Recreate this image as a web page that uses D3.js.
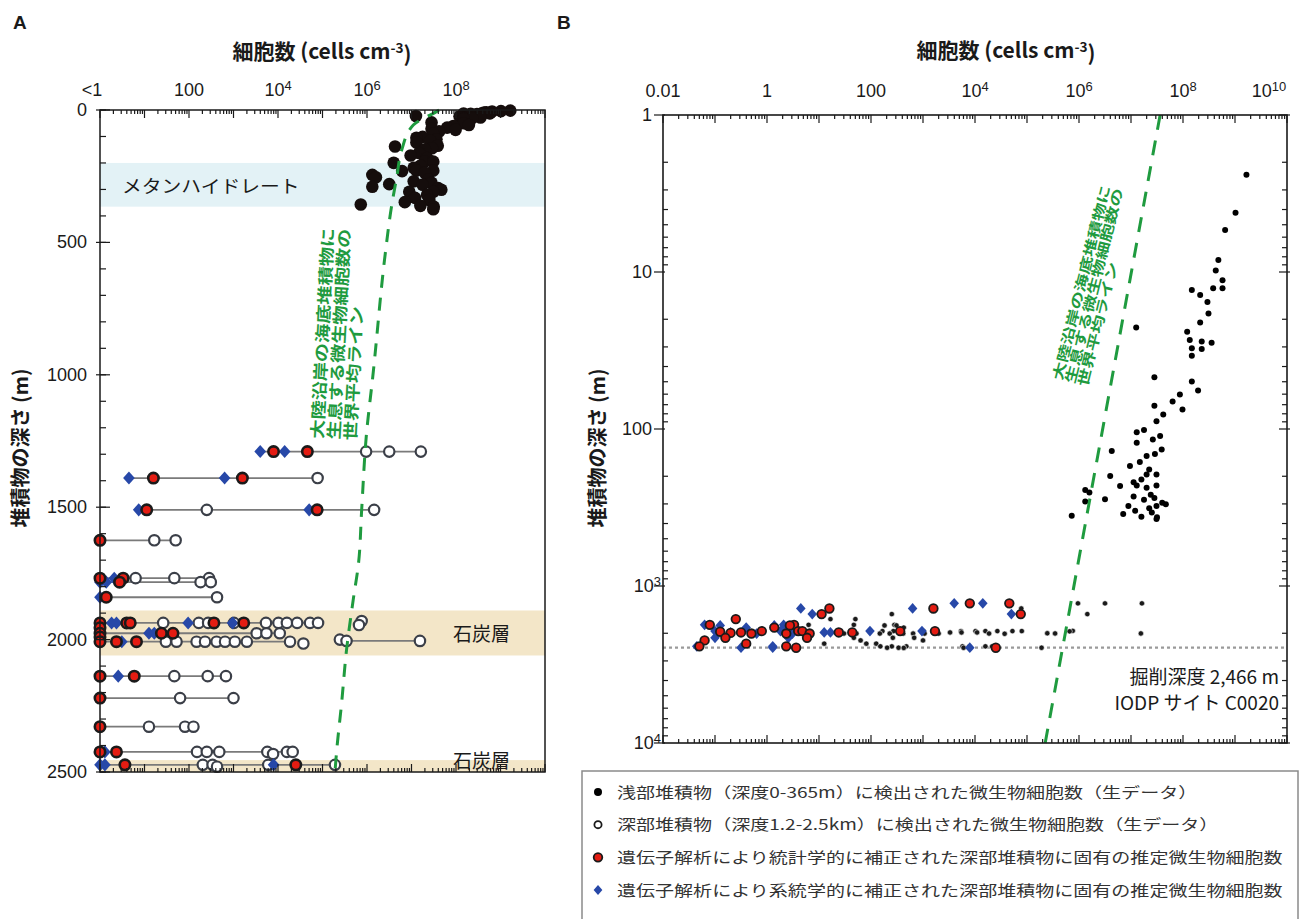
<!DOCTYPE html>
<html>
<head>
<meta charset="utf-8">
<script src="https://cdn.jsdelivr.net/npm/d3@7/dist/d3.min.js"></script>
<style>
  body { margin: 0; background: #fff; }
  svg { display: block; }
</style>
</head>
<body>
<svg id="chart"></svg>
<script>
// ------------------------------------------------------------
// Microbial cell counts vs sediment depth (IODP site C0020).
// Cell values are log10(cells cm-3); depths are metres.
// Panel A: linear depth, panel B: log depth.
// ------------------------------------------------------------

// shallow sediments (0-365 m), raw counts  [depth, log10 cells]
const shallowCells = [
  [2.4, 9.22], [4.2, 9.01], [5.4, 8.81], [8.4, 8.68], [9.8, 8.63], [11.3, 8.76],
  [12.7, 8.58], [12.7, 8.76], [13, 8.17], [14, 8.33], [15.5, 8.47], [18.4, 8.49],
  [21, 8.33], [22.6, 7.10], [24, 8.08], [27.1, 8.13], [27.7, 8.36], [28.2, 8.55],
  [30.6, 8.17], [30.9, 8.36], [34.2, 8.17], [46.8, 7.45], [49.8, 8.17], [56.8, 8.29],
  [60.4, 7.94], [66.7, 7.80], [71, 7.45], [75.2, 7.99], [80.9, 7.62], [89.1, 7.49],
  [101.6, 7.25], [104.7, 7.11], [110.9, 7.56], [116.7, 7.42], [122.5, 7.11], [134.9, 7.59],
  [138, 6.63], [144.5, 7.46], [148.6, 7.30], [162.2, 7.17], [171.8, 6.98], [181, 7.35],
  [195, 7.30], [195, 7.49], [199.5, 6.60], [210, 7.20], [218, 7.05], [229, 7.11],
  [229, 7.49], [230.7, 6.79], [237, 7.30], [245, 6.12], [254, 6.20], [262, 7.38],
  [269, 7.05], [275, 7.45], [280, 6.50], [282, 7.25], [290, 6.12], [295, 7.60],
  [301, 7.67], [309, 6.95], [309, 7.49], [320, 7.35], [332, 7.08], [340, 7.40],
  [348, 6.85], [357, 5.86], [362, 7.20], [365, 7.50], [375, 7.49]
];

// deep sediments (1.2-2.5 km), raw counts
const deepRaw = [
  [1290, 5.98], [1290, 6.5], [1290, 7.21],
  [1390, 4.89],
  [1510, 2.40], [1510, 6.16],
  [1625, 1.22], [1625, 1.70],
  [1768, 0.8], [1768, 1.67], [1768, 2.45],
  [1783, 2.26], [1783, 2.49],
  [1840, 2.63],
  [1937, 1.42], [1937, 2.22], [1937, 2.43], [1937, 3.01], [1937, 3.73], [1937, 4.01],
  [1937, 4.2], [1937, 4.43], [1937, 4.72], [1937, 4.9], [1930, 5.88], [1945, 5.82],
  [1976, 3.52], [1976, 3.74], [1976, 4.04], [2000, 5.39], [2005, 5.54], [2005, 7.19],
  [2008, 1.48], [2008, 1.72], [2008, 2.17], [2008, 2.36], [2008, 2.62], [2008, 2.81],
  [2008, 3.03], [2008, 3.3], [2008, 4.27], [2015, 4.57],
  [2138, 1.67], [2138, 2.42], [2138, 2.83],
  [2221, 1.8], [2221, 3.0],
  [2329, 1.1], [2329, 1.91], [2329, 2.1],
  [2424, 2.18], [2424, 2.4], [2424, 2.68], [2424, 3.76], [2432, 3.89], [2424, 4.2], [2424, 4.33],
  [2473, 2.31], [2473, 2.53], [2480, 2.63], [2473, 3.78], [2473, 5.28]
];

// statistically corrected, deep-biosphere specific (red)
const deepStat = [
  [1290, 3.9], [1290, 4.66],
  [1390, 1.2], [1390, 3.2],
  [1510, 1.05], [1510, 4.88],
  [1625, -0.6],
  [1768, -1.1], [1768, 0.52],
  [1783, 0.44],
  [1840, 0.14],
  [1937, -0.1], [1937, 0.6], [1937, 0.68], [1937, 2.56], [1937, 3.23],
  [1955, -0.9],
  [1976, -0.5], [1976, 1.38], [1976, 1.64],
  [1990, -0.7],
  [2008, -0.3], [2008, 0.37], [2008, 0.82],
  [2138, -0.8], [2138, 0.77],
  [2221, -1.2],
  [2329, -0.4],
  [2424, -1.3], [2424, 0.37],
  [2473, 0.56], [2473, 4.4]
];

// phylogenetically corrected, deep-biosphere specific (blue)
const deepPhylo = [
  [1290, 3.6], [1290, 4.15],
  [1390, 0.65], [1390, 2.8],
  [1510, 0.87], [1510, 4.7],
  [1768, -1.2], [1768, 0.32],
  [1783, -0.9], [1783, 0.14],
  [1840, -0.4],
  [1937, -1.0], [1937, 0.26], [1937, 0.37], [1937, 1.98], [1937, 2.98],
  [1976, -0.7], [1976, 1.1], [1976, 1.22],
  [2008, -0.2], [2008, 0.49],
  [2138, -1.0], [2138, 0.41],
  [2424, -1.35], [2424, 0.11],
  [2473, -0.5], [2473, 0.11], [2473, 3.9]
];

// global average for continental-margin sediments, as drawn in each panel
const avgLineA = [
  [0, 7.62], [6, 7.56], [57, 7.04], [151, 6.78], [252, 6.67], [365, 6.55], [529, 6.42],
  [1007, 6.13], [1220, 5.99], [1510, 5.88], [1711, 5.81], [1850, 5.69], [2039, 5.54],
  [2239, 5.43], [2417, 5.32], [2500, 5.28]
];
const avgLineB = [[1, 7.56], [10000, 5.35]];

const methaneBand = [200, 365];
const coalBands = [[1890, 2060], [2455, 2500]];
const drillDepth = 2466;

const xTicksA = [0, 2, 4, 6, 8];
const xTickLabelsA = ["<1", "100", "10^4", "10^6", "10^8"];
const yTicksA = [0, 500, 1000, 1500, 2000, 2500];
const xTicksB = [-2, 0, 2, 4, 6, 8, 10];
const xTickLabelsB = ["0.01", "1", "100", "10^4", "10^6", "10^8", "10^10"];
const yTicksB = [0, 1, 2, 3, 4];
const yTickLabelsB = ["1", "10", "100", "10^3", "10^4"];

const avgLineText = ["大陸沿岸の海底堆積物に", "生息する微生物細胞数の", "世界平均ライン"];
const legendLabels = [
  "浅部堆積物（深度0-365m）に検出された微生物細胞数（生データ）",
  "深部堆積物（深度1.2-2.5km）に検出された微生物細胞数（生データ）",
  "遺伝子解析により統計学的に補正された深部堆積物に固有の推定微生物細胞数",
  "遺伝子解析により系統学的に補正された深部堆積物に固有の推定微生物細胞数"
];

// ---------- styling ----------
const NUM = "'Liberation Sans', Arial, 'Noto Sans CJK JP', sans-serif";
const JP = "'Noto Sans CJK JP', 'Liberation Sans', sans-serif";
const GREEN = "#1f9b3f";
const RED = "#e41c12";
const BLUE = "#2748a8";
const INK = "#1a1a1a";

const W = 1308, H = 919;
const svg = d3.select("#chart").attr("width", W).attr("height", H);
svg.append("rect").attr("width", W).attr("height", H).attr("fill", "#fff");

const cells = v => Math.pow(10, v);

// rhombus = square turned 45°, slightly taller than wide
const rhomb = d3.symbol().type(d3.symbolSquare);
const rhombAt = (x, y) => `translate(${x},${y}) scale(1,1.12) rotate(45)`;

// "10^4" -> 10 with superscript
function powText(sel, label) {
  const m = /^10\^(-?\d+)$/.exec(label);
  if (!m) { sel.text(label); return; }
  sel.append("tspan").text("10");
  sel.append("tspan").attr("dy", "-0.45em").attr("font-size", "0.72em").text(m[1]);
}

function logTickValues(lo, hi) {
  const major = d3.range(lo, hi + 1).map(cells);
  const minor = [];
  d3.range(lo, hi).forEach(e => d3.range(2, 10).forEach(k => minor.push(k * cells(e))));
  return { major, minor };
}

function tickLines(g, vals, pos, fixed, from, to, horizontal) {
  g.append("g").selectAll("line").data(vals).join("line")
    .attr("x1", d => horizontal ? pos(d) : fixed + from)
    .attr("x2", d => horizontal ? pos(d) : fixed + to)
    .attr("y1", d => horizontal ? fixed + from : pos(d))
    .attr("y2", d => horizontal ? fixed + to : pos(d))
    .attr("stroke", INK).attr("stroke-width", 1.2);
}

// slanted multi-line label (text runs bottom -> top)
function slantText(g, x, y, angle, lines, size, stretch, lead) {
  const t = g.append("text")
    .attr("transform", `translate(${x},${y}) rotate(${angle}) scale(${stretch},1)`)
    .attr("font-family", JP).attr("font-size", size).attr("font-weight", 700)
    .attr("fill", GREEN);
  lines.forEach((s, i) => t.append("tspan").attr("x", 0).attr("y", i * lead).text(s));
}

function axisTitle(g, cx, y) {
  const t = g.append("text").attr("x", cx).attr("y", y).attr("text-anchor", "middle")
    .attr("font-family", JP).attr("font-size", 21).attr("font-weight", 700).attr("fill", INK);
  t.append("tspan").text("細胞数 (cells cm");
  t.append("tspan").attr("dy", "-0.45em").attr("font-size", "0.65em").text("-3");
  t.append("tspan").attr("dy", "0.45em").text(")");
}

function depthTitle(g, x, cy) {
  g.append("text")
    .attr("transform", `translate(${x},${cy}) rotate(-90)`)
    .attr("text-anchor", "middle")
    .attr("font-family", JP).attr("font-size", 20).attr("font-weight", 700).attr("fill", INK)
    .text("堆積物の深さ (m)");
}

// ============================================================
// Panel A
// ============================================================
const xA = d3.scaleLog().domain([1, 1e10]).range([100, 545]);
const yA = d3.scaleLinear().domain([0, 2500]).range([110, 772]);
const pxA = v => xA(Math.max(1, cells(v)));   // "<1" values sit on the left edge

const gA = svg.append("g").attr("class", "panel-a");

gA.append("rect")
  .attr("x", xA(1)).attr("width", xA(1e10) - xA(1))
  .attr("y", yA(methaneBand[0])).attr("height", yA(methaneBand[1]) - yA(methaneBand[0]))
  .attr("fill", "#e3f2f6");
gA.selectAll(".coal").data(coalBands).join("rect")
  .attr("x", xA(1)).attr("width", xA(1e10) - xA(1))
  .attr("y", d => yA(d[0])).attr("height", d => yA(d[1]) - yA(d[0]))
  .attr("fill", "#f3e6c8");

gA.append("text").attr("x", 122).attr("y", 193)
  .attr("font-family", JP).attr("font-size", 18).attr("fill", INK)
  .attr("transform", "translate(122,0) scale(1.1,1) translate(-122,0)")
  .text("メタンハイドレート");
gA.append("text").attr("x", 453).attr("y", 641)
  .attr("font-family", JP).attr("font-size", 19).attr("fill", INK).text("石炭層");
gA.append("text").attr("x", 453).attr("y", 768)
  .attr("font-family", JP).attr("font-size", 19).attr("fill", INK).text("石炭層");

// row connectors: one line per sampled depth, min -> max
const deepAll = deepRaw.concat(deepStat, deepPhylo);
const rows = d3.rollups(deepAll, v => d3.extent(v, d => d[1]), d => d[0])
  .filter(([, ext]) => ext[0] !== ext[1]);
gA.append("g").selectAll("line").data(rows).join("line")
  .attr("x1", d => pxA(d[1][0])).attr("x2", d => pxA(d[1][1]))
  .attr("y1", d => yA(d[0])).attr("y2", d => yA(d[0]))
  .attr("stroke", "#7a7a7a").attr("stroke-width", 1.8);

gA.append("g").selectAll("circle").data(deepRaw).join("circle")
  .attr("cx", d => pxA(d[1])).attr("cy", d => yA(d[0])).attr("r", 5.2)
  .attr("fill", "#fff").attr("stroke", "#3b3f48").attr("stroke-width", 2.2);

gA.append("g").selectAll("path").data(deepPhylo).join("path")
  .attr("d", rhomb.size(68)())
  .attr("transform", d => rhombAt(pxA(d[1]), yA(d[0])))
  .attr("fill", BLUE);

gA.append("g").selectAll("circle").data(deepStat).join("circle")
  .attr("cx", d => pxA(d[1])).attr("cy", d => yA(d[0])).attr("r", 5.2)
  .attr("fill", RED).attr("stroke", INK).attr("stroke-width", 2.6);

gA.append("g").selectAll("circle").data(shallowCells).join("circle")
  .attr("cx", d => pxA(d[1])).attr("cy", d => yA(d[0])).attr("r", 6.3)
  .attr("fill", "#150d0c");

gA.append("path")
  .attr("d", d3.line().x(d => pxA(d[1])).y(d => yA(d[0])).curve(d3.curveMonotoneY)(avgLineA))
  .attr("fill", "none").attr("stroke", GREEN).attr("stroke-width", 3)
  .attr("stroke-dasharray", "13,10");

slantText(gA, 323, 439, -87, avgLineText, 16, 1.2, 16.5);

// frame and ticks
gA.append("rect").attr("x", 100).attr("y", 110).attr("width", 445).attr("height", 662)
  .attr("fill", "none").attr("stroke", INK).attr("stroke-width", 1.5);
{
  const t = logTickValues(0, 10);
  tickLines(gA, t.minor, xA, 110, 0, 4, true);
  tickLines(gA, t.major, xA, 110, 0, 8, true);
  tickLines(gA, t.minor, xA, 772, 0, -4, true);
  tickLines(gA, t.major, xA, 772, 0, -8, true);
  tickLines(gA, d3.range(0, 2501, 100), yA, 100, 0, 6, false);
  tickLines(gA, yTicksA, yA, 100, -4, 10, false);
}
gA.selectAll(".xlab").data(xTicksA).join("text")
  .attr("x", d => xA(cells(d)) - (d === 0 ? 8 : 0)).attr("y", 96)
  .attr("text-anchor", "middle").attr("font-family", NUM).attr("font-size", 18).attr("fill", INK)
  .each(function(d, i) { powText(d3.select(this), xTickLabelsA[i]); });
gA.selectAll(".ylab").data(yTicksA).join("text")
  .attr("x", 87).attr("y", d => yA(d) + 6)
  .attr("text-anchor", "end").attr("font-family", NUM).attr("font-size", 18).attr("fill", INK)
  .text(d => d);

axisTitle(gA, 322, 59);
depthTitle(gA, 28, 448);
gA.append("text").attr("x", 13).attr("y", 29)
  .attr("font-family", NUM).attr("font-size", 19).attr("font-weight", 700).attr("fill", INK).text("A");

// ============================================================
// Panel B
// ============================================================
const xB = d3.scaleLog().domain([1e-2, 1e10]).range([663, 1287]);
const yB = d3.scaleLog().domain([1, 1e4]).range([115, 743]);
const pxB = v => xB(cells(v));

const gB = svg.append("g").attr("class", "panel-b");

gB.append("line")
  .attr("x1", 663).attr("x2", 1287).attr("y1", yB(drillDepth)).attr("y2", yB(drillDepth))
  .attr("stroke", "#9a9a9a").attr("stroke-width", 2.2).attr("stroke-dasharray", "3,3");

gB.append("text").attr("x", 1279).attr("y", 684).attr("text-anchor", "end")
  .attr("font-family", JP).attr("font-size", 19).attr("fill", INK).text("掘削深度 2,466 m");
gB.append("text").attr("x", 1279).attr("y", 710).attr("text-anchor", "end")
  .attr("font-family", JP).attr("font-size", 19).attr("fill", INK).text("IODP サイト C0020");

gB.append("g").selectAll("circle").data(deepRaw).join("circle")
  .attr("cx", d => pxB(d[1])).attr("cy", d => yB(d[0])).attr("r", 2.7)
  .attr("fill", INK).attr("stroke", "#fff").attr("stroke-width", 0.6);

gB.append("g").selectAll("circle").data(shallowCells).join("circle")
  .attr("cx", d => pxB(d[1])).attr("cy", d => yB(d[0])).attr("r", 3)
  .attr("fill", "#000");

gB.append("g").selectAll("path").data(deepPhylo).join("path")
  .attr("d", rhomb.size(46)())
  .attr("transform", d => rhombAt(pxB(d[1]), yB(d[0])))
  .attr("fill", BLUE);

gB.append("g").selectAll("circle").data(deepStat).join("circle")
  .attr("cx", d => pxB(d[1])).attr("cy", d => yB(d[0])).attr("r", 4.3)
  .attr("fill", RED).attr("stroke", INK).attr("stroke-width", 1.8);

gB.append("path")
  .attr("d", d3.line().x(d => pxB(d[1])).y(d => yB(d[0]))(avgLineB))
  .attr("fill", "none").attr("stroke", GREEN).attr("stroke-width", 3)
  .attr("stroke-dasharray", "15,11");

slantText(gB, 1062, 381, -76, avgLineText, 13.5, 1.35, 13);

gB.append("rect").attr("x", 663).attr("y", 115).attr("width", 624).attr("height", 628)
  .attr("fill", "none").attr("stroke", INK).attr("stroke-width", 1.6);
{
  const tx = logTickValues(-2, 10);
  tickLines(gB, tx.minor, xB, 115, 0, 4, true);
  tickLines(gB, tx.major, xB, 115, 0, 8, true);
  tickLines(gB, tx.minor, xB, 743, 0, -4, true);
  tickLines(gB, tx.major, xB, 743, 0, -8, true);
  const ty = logTickValues(0, 4);
  tickLines(gB, ty.minor, yB, 663, 0, 5, false);
  tickLines(gB, ty.major, yB, 663, -9, 2, false);
  tickLines(gB, ty.minor, yB, 1287, 0, -5, false);
  tickLines(gB, ty.major, yB, 1287, -8, 3, false);
}
gB.selectAll(".xlab").data(xTicksB).join("text")
  .attr("x", d => xB(cells(d)) - (d === 10 ? 18 : 0)).attr("y", 97)
  .attr("text-anchor", "middle").attr("font-family", NUM).attr("font-size", 18).attr("fill", INK)
  .each(function(d, i) { powText(d3.select(this), xTickLabelsB[i]); });
gB.selectAll(".ylab").data(yTicksB).join("text")
  .attr("x", (d, i) => yTickLabelsB[i].includes("^") ? 661 : 652).attr("y", d => yB(cells(d)) + 6)
  .attr("text-anchor", "end").attr("font-family", NUM).attr("font-size", 18).attr("fill", INK)
  .each(function(d, i) { powText(d3.select(this), yTickLabelsB[i]); });

axisTitle(gB, 1006, 58);
depthTitle(gB, 605, 448);
gB.append("text").attr("x", 557).attr("y", 29)
  .attr("font-family", NUM).attr("font-size", 19).attr("font-weight", 700).attr("fill", INK).text("B");

// ============================================================
// Legend
// ============================================================
const gL = svg.append("g").attr("class", "legend");
gL.append("rect").attr("x", 582).attr("y", 771).attr("width", 716).attr("height", 160)
  .attr("fill", "#fff").attr("stroke", "#8a8a8a").attr("stroke-width", 1.5);

const legendY = d3.scalePoint().domain(d3.range(legendLabels.length)).range([792, 890]);
const mx = 598;
gL.append("circle").attr("cx", mx).attr("cy", legendY(0)).attr("r", 4).attr("fill", "#000");
gL.append("circle").attr("cx", mx).attr("cy", legendY(1)).attr("r", 3.6)
  .attr("fill", "#fff").attr("stroke", INK).attr("stroke-width", 1.8);
gL.append("circle").attr("cx", mx).attr("cy", legendY(2)).attr("r", 4.3)
  .attr("fill", RED).attr("stroke", INK).attr("stroke-width", 1.8);
gL.append("path").attr("d", rhomb.size(38)())
  .attr("transform", rhombAt(mx, legendY(3))).attr("fill", BLUE);

gL.selectAll(".ltext").data(legendLabels).join("text")
  .attr("transform", (d, i) => `translate(617,${legendY(i) + 5.5}) scale(1.27,1)`)
  .attr("font-family", JP).attr("font-size", 15).attr("fill", "#333")
  .text(d => d);
</script>
</body>
</html>
